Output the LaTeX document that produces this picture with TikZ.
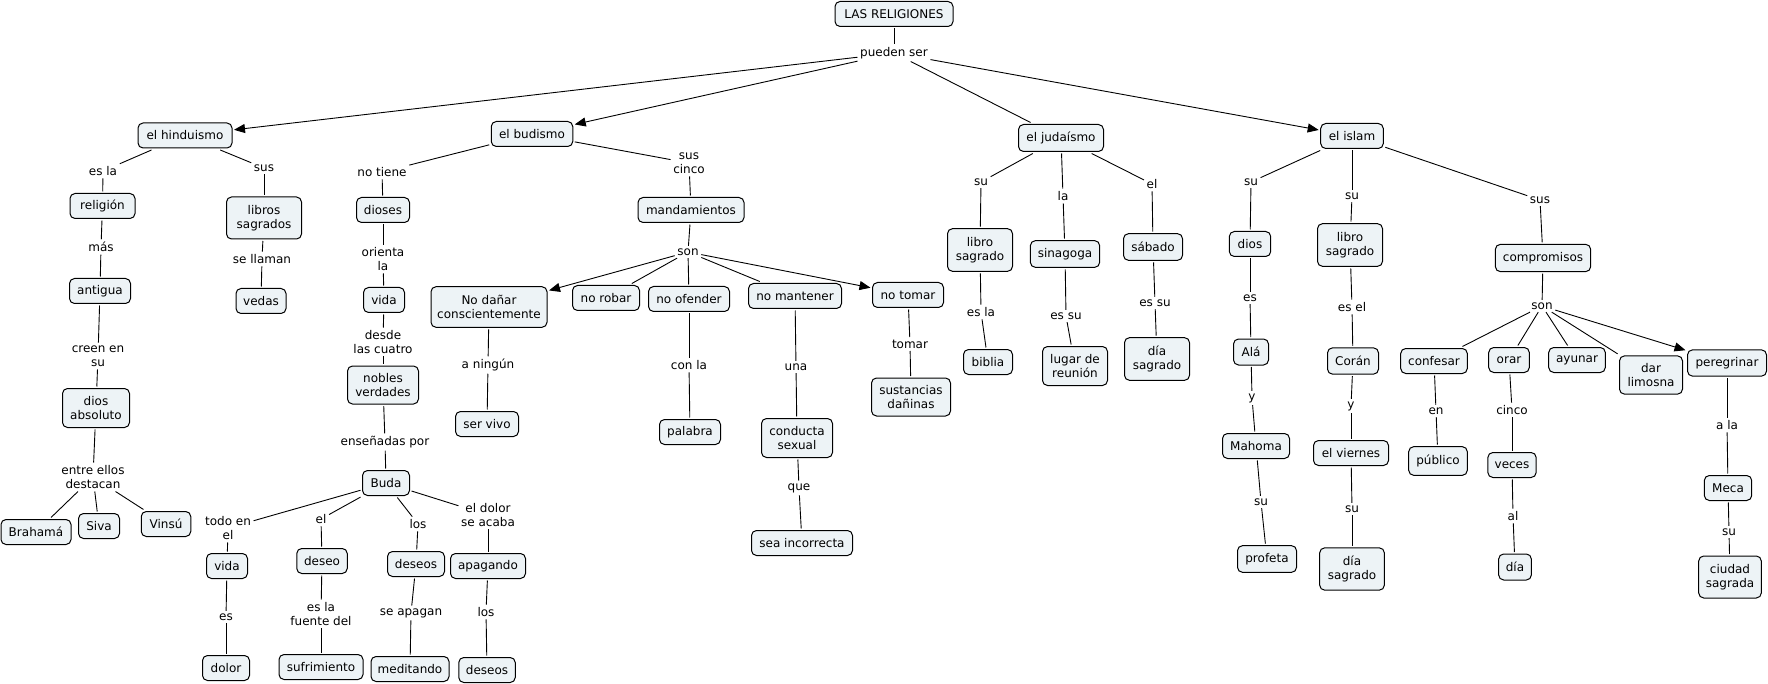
\documentclass[tikz,border=0pt]{standalone}
\usepackage{fontspec}
\setmainfont{DejaVu Sans}
\usetikzlibrary{arrows.meta}
\definecolor{boxfill}{RGB}{237,243,246}
\begin{document}
\begin{tikzpicture}[x=1pt,y=-1pt,
  every node/.style={font=\fontsize{12}{14.3}\selectfont},
  cb/.style={draw=black, line width=1pt, fill=boxfill, rounded corners=5pt, align=center,
    inner xsep=3pt, inner ysep=2pt, minimum height=25pt, minimum width=#1pt, outer sep=2pt},
  cbt/.style={cb=#1, minimum height=41pt},
  lbl/.style={inner sep=2.5pt, align=center},
  conn/.style={line width=0.9pt},
  arr/.style={conn, -{Triangle[length=11pt,width=9pt]}}]
\useasboundingbox (0,0) rectangle (1768,684);

% top
\node[cb=118] (LR) at (894,14) {LAS RELIGIONES};
\node[lbl] (ps) at (894,53) {pueden ser};
\node[cb=94] (hin) at (185,135.5) {el hinduismo};
\node[cb=81.5] (bud) at (532,134) {el budismo};
\node[cb=85, minimum height=27pt] (jud) at (1061,138) {el judaísmo};
\node[cb=62.6] (isl) at (1352,136) {el islam};

% hinduismo
\node[lbl] (lesla) at (103,171) {es la};
\node[cb=65] (relig) at (102.5,206) {religión};
\node[lbl] (lmas) at (101,247) {más};
\node[cb=61] (antig) at (100,291) {antigua};
\node[lbl] (lcreen) at (98,356) {creen en\\su};
\node[cbt=67, minimum height=39pt] (dabs) at (96,408) {dios\\absoluto};
\node[lbl] (lentre) at (93,477) {entre ellos\\destacan};
\node[cb=70] (brah) at (36,532) {Brahamá};
\node[cb=41] (siva) at (99,526) {Siva};
\node[cb=49.5] (vinsu) at (166,524) {Vinsú};
\node[lbl] (lsus1) at (264,168) {sus};
\node[cbt=75, minimum height=42pt] (libros) at (264,218) {libros\\sagrados};
\node[lbl] (lsellam) at (262,259) {se llaman};
\node[cb=50] (vedas) at (261,301) {vedas};

% budismo
\node[lbl] (lnotiene) at (382,172) {no tiene};
\node[cb=53] (dioses) at (383,210) {dioses};
\node[lbl] (lorienta) at (383,259) {orienta\\la};
\node[cb=41] (vida1) at (384,300) {vida};
\node[lbl] (ldesde) at (383,342) {desde\\las cuatro};
\node[cbt=71, minimum height=38pt] (nobles) at (383,385) {nobles\\verdades};
\node[lbl] (lensen) at (385,442) {enseñadas por};
\node[cb=47] (buda) at (386,483) {Buda};
\node[lbl] (ltodo) at (228,528) {todo en\\el};
\node[cb=41] (vida2) at (227,566) {vida};
\node[lbl] (les1) at (226,617) {es};
\node[cb=47] (dolor) at (226,668) {dolor};
\node[lbl] (lel1) at (321,519) {el};
\node[cb=50.5] (deseo) at (322,561) {deseo};
\node[lbl] (lfuente) at (321,614) {es la\\fuente del};
\node[cb=84] (sufr) at (321,667) {sufrimiento};
\node[lbl] (llos1) at (418,524) {los};
\node[cb=57] (deseos1) at (416,564) {deseos};
\node[lbl] (lseapag) at (411,613) {se apagan};
\node[cb=78] (medit) at (410,669) {meditando};
\node[lbl] (ldolor) at (488,515) {el dolor\\se acaba};
\node[cb=75] (apag) at (488,566) {apagando};
\node[lbl] (llos2) at (486,612) {los};
\node[cb=56.5] (deseos2) at (487,670) {deseos};

\node[lbl] (lsuscinco) at (689,163) {sus\\cinco};
\node[cb=106] (mand) at (691,210) {mandamientos};
\node[lbl] (lson1) at (688,252) {son};
\node[cbt=116, minimum height=40.6pt] (nodanar) at (489,307) {No dañar\\conscientemente};
\node[cb=67] (norobar) at (606,298) {no robar};
\node[cb=81] (noofender) at (689,299) {no ofender};
\node[cb=93] (nomantener) at (795,296) {no mantener};
\node[cb=71] (notomar) at (908,295) {no tomar};
\node[lbl] (laning) at (488,365) {a ningún};
\node[cb=63] (servivo) at (487,424) {ser vivo};
\node[lbl] (lconla) at (689,365) {con la};
\node[cb=61] (palabra) at (690,432) {palabra};
\node[lbl] (luna) at (796,367) {una};
\node[cbt=71, minimum height=39pt] (conducta) at (797,438) {conducta\\sexual};
\node[lbl] (lque) at (799,488) {que};
\node[cb=101] (sea) at (802,543) {sea incorrecta};
\node[lbl] (ltomar) at (910,344) {tomar};
\node[cbt=79, minimum height=38pt] (sust) at (911,397) {sustancias\\dañinas};

% judaismo
\node[lbl] (lsu1) at (981,182) {su};
\node[cbt=65, minimum height=42.7pt] (libroJ) at (980,250) {libro\\sagrado};
\node[lbl] (lesla2) at (981,312) {es la};
\node[cb=49] (biblia) at (988,362) {biblia};
\node[lbl] (lla) at (1063,196) {la};
\node[cb=69.3, minimum height=26.7pt] (sinag) at (1065,254) {sinagoga};
\node[lbl] (lessu1) at (1066,316) {es su};
\node[cbt=65, minimum height=39pt] (lugar) at (1075,366) {lugar de\\reunión};
\node[lbl] (lel2) at (1152,184) {el};
\node[cb=59, minimum height=26.7pt] (sabado) at (1153,247) {sábado};
\node[lbl] (lessu2) at (1155,303) {es su};
\node[cbt=65, minimum height=42.7pt] (diaJ) at (1157,359) {día\\sagrado};

% islam
\node[lbl] (lsu2) at (1251,182) {su};
\node[cb=41.4] (dios) at (1250,244) {dios};
\node[lbl] (les2) at (1250,298) {es};
\node[cb=35, minimum height=26pt] (ala) at (1251,352) {Alá};
\node[lbl] (ly1) at (1252,398) {y};
\node[cb=67] (mahoma) at (1256,446) {Mahoma};
\node[lbl] (lsu3) at (1261,502) {su};
\node[cb=59, minimum height=26.7pt] (profeta) at (1267,559) {profeta};
\node[lbl] (lsu4) at (1352,196) {su};
\node[cbt=65, minimum height=42.7pt] (libroI) at (1350,245) {libro\\sagrado};
\node[lbl] (lesel) at (1352,307) {es el};
\node[cb=51, minimum height=26.3pt] (coran) at (1353,361) {Corán};
\node[lbl] (ly2) at (1351,406) {y};
\node[cb=75] (viernes) at (1351,453) {el viernes};
\node[lbl] (lsu5) at (1352,509) {su};
\node[cbt=64.7, minimum height=42.3pt] (diaI) at (1352,569) {día\\sagrado};
\node[lbl] (lsus2) at (1540,200) {sus};
\node[cb=95.3, minimum height=27.3pt] (comp) at (1543,258) {compromisos};
\node[lbl] (lson2) at (1542,306) {son};
\node[cb=66.6] (confesar) at (1434,361) {confesar};
\node[lbl] (len) at (1436,411) {en};
\node[cb=58.6, minimum height=28.7pt] (publico) at (1438,461) {público};
\node[cb=40.6] (orar) at (1509,360) {orar};
\node[lbl] (lcinco) at (1512,410) {cinco};
\node[cb=48.3] (veces) at (1512,465) {veces};
\node[lbl] (lal) at (1513,516) {al};
\node[cb=32.7, minimum height=26pt] (dia) at (1515,567) {día};
\node[cb=56.6] (ayunar) at (1577,360) {ayunar};
\node[cbt=63, minimum height=38.3pt] (limosna) at (1651,375) {dar\\limosna};
\node[cb=79, minimum height=26.3pt] (pereg) at (1727,363) {peregrinar};
\node[lbl] (lala) at (1727,425) {a la};
\node[cb=47.4] (meca) at (1728,488) {Meca};
\node[lbl] (lsu6) at (1729,532) {su};
\node[cbt=62.6, minimum height=42pt] (ciudad) at (1730,577) {ciudad\\sagrada};

% connectors
\foreach \a/\b in {LR/ps, ps/jud,
  hin/lesla, lesla/relig, relig/lmas, lmas/antig, antig/lcreen, lcreen/dabs, dabs/lentre,
  lentre/brah, lentre/siva, lentre/vinsu, hin/lsus1, lsus1/libros, libros/lsellam, lsellam/vedas,
  bud/lnotiene, lnotiene/dioses, dioses/lorienta, lorienta/vida1, vida1/ldesde, ldesde/nobles,
  nobles/lensen, lensen/buda, buda/ltodo, ltodo/vida2, vida2/les1, les1/dolor,
  buda/lel1, lel1/deseo, deseo/lfuente, lfuente/sufr, buda/llos1, llos1/deseos1,
  deseos1/lseapag, lseapag/medit, buda/ldolor, ldolor/apag, apag/llos2, llos2/deseos2,
  bud/lsuscinco, lsuscinco/mand, mand/lson1, lson1/norobar, lson1/noofender, lson1/nomantener,
  nodanar/laning, laning/servivo, noofender/lconla, lconla/palabra, nomantener/luna, luna/conducta,
  conducta/lque, lque/sea, notomar/ltomar, ltomar/sust,
  jud/lsu1, lsu1/libroJ, libroJ/lesla2, lesla2/biblia, jud/lla, lla/sinag, sinag/lessu1, lessu1/lugar,
  jud/lel2, lel2/sabado, sabado/lessu2, lessu2/diaJ,
  isl/lsu2, lsu2/dios, dios/les2, les2/ala, ala/ly1, ly1/mahoma, mahoma/lsu3, lsu3/profeta,
  isl/lsu4, lsu4/libroI, libroI/lesel, lesel/coran, coran/ly2, ly2/viernes, viernes/lsu5, lsu5/diaI,
  isl/lsus2, lsus2/comp, comp/lson2, lson2/confesar, lson2/orar, lson2/ayunar, lson2/limosna,
  confesar/len, len/publico, orar/lcinco, lcinco/veces, veces/lal, lal/dia,
  pereg/lala, lala/meca, meca/lsu6, lsu6/ciudad}
  \draw[conn] (\a) -- (\b);
\foreach \a/\b in {ps/hin, ps/bud, ps/isl, lson1/nodanar, lson1/notomar, lson2/pereg}
  \draw[arr] (\a) -- (\b);
\end{tikzpicture}
\end{document}
